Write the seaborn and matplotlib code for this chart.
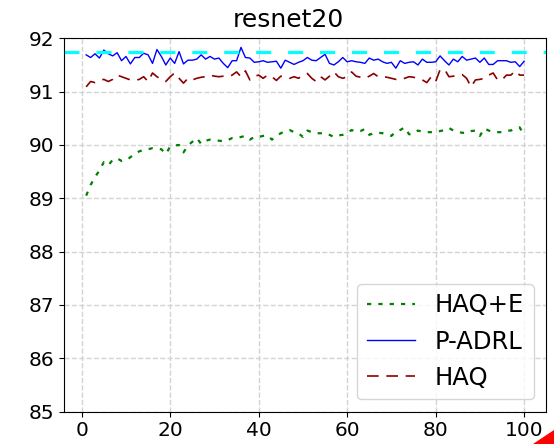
import numpy as np
import matplotlib
matplotlib.use("Agg")
import matplotlib.pyplot as plt
import seaborn as sns
from matplotlib.patches import Polygon

# epochs / accuracies
epochs = list(range(1, 101))

haq_e = [89.05, 89.25, 89.40, 89.52, 89.68, 89.62, 89.72, 89.75, 89.70, 89.71,
         89.77, 89.84, 89.88, 89.91, 89.92, 89.94, 89.93, 89.92, 89.83, 89.97,
         89.99, 90.00, 89.86, 89.99, 90.06, 90.13, 90.02, 90.08, 90.10, 90.09,
         90.08, 90.07, 90.09, 90.13, 90.13, 90.15, 90.17, 90.10, 90.15, 90.15,
         90.17, 90.18, 90.10, 90.17, 90.22, 90.26, 90.28, 90.24, 90.22, 90.15,
         90.27, 90.24, 90.22, 90.22, 90.22, 90.19, 90.15, 90.18, 90.19, 90.22,
         90.28, 90.25, 90.26, 90.30, 90.19, 90.22, 90.23, 90.22, 90.20, 90.17,
         90.25, 90.28, 90.33, 90.20, 90.21, 90.27, 90.25, 90.24, 90.24, 90.24,
         90.26, 90.28, 90.32, 90.27, 90.24, 90.23, 90.22, 90.26, 90.27, 90.17,
         90.31, 90.27, 90.24, 90.24, 90.24, 90.27, 90.27, 90.31, 90.33, 90.18]

p_adrl = [91.69, 91.64, 91.71, 91.63, 91.78, 91.71, 91.67, 91.73, 91.58, 91.66,
          91.52, 91.64, 91.64, 91.72, 91.69, 91.53, 91.79, 91.66, 91.50, 91.63,
          91.53, 91.75, 91.52, 91.59, 91.59, 91.61, 91.69, 91.61, 91.66, 91.61,
          91.63, 91.53, 91.45, 91.58, 91.58, 91.83, 91.64, 91.63, 91.55, 91.56,
          91.58, 91.55, 91.56, 91.57, 91.44, 91.59, 91.55, 91.51, 91.55, 91.58,
          91.64, 91.59, 91.58, 91.64, 91.70, 91.53, 91.50, 91.56, 91.64, 91.56,
          91.58, 91.56, 91.55, 91.53, 91.63, 91.59, 91.61, 91.56, 91.53, 91.55,
          91.44, 91.58, 91.53, 91.55, 91.56, 91.50, 91.61, 91.55, 91.55, 91.56,
          91.67, 91.58, 91.50, 91.61, 91.56, 91.66, 91.59, 91.61, 91.63, 91.55,
          91.63, 91.51, 91.51, 91.58, 91.58, 91.58, 91.55, 91.56, 91.47, 91.57]

haq = [91.09, 91.19, 91.17, 91.21, 91.23, 91.19, 91.23, 91.31, 91.28, 91.25,
       91.22, 91.21, 91.23, 91.28, 91.19, 91.35, 91.28, 91.23, 91.19, 91.28,
       91.35, 91.25, 91.16, 91.25, 91.22, 91.25, 91.27, 91.28, 91.31, 91.29,
       91.28, 91.29, 91.28, 91.31, 91.37, 91.28, 91.39, 91.22, 91.29, 91.31,
       91.25, 91.31, 91.28, 91.21, 91.29, 91.28, 91.25, 91.28, 91.25, 91.31,
       91.34, 91.25, 91.19, 91.28, 91.22, 91.29, 91.37, 91.28, 91.25, 91.28,
       91.37, 91.29, 91.27, 91.25, 91.29, 91.34, 91.28, 91.28, 91.27, 91.25,
       91.23, 91.22, 91.25, 91.28, 91.27, 91.25, 91.22, 91.17, 91.28, 91.19,
       91.41, 91.42, 91.28, 91.29, 91.31, 91.32, 91.25, 91.09, 91.22, 91.23,
       91.25, 91.31, 91.35, 91.22, 91.22, 91.31, 91.31, 91.39, 91.31, 91.31]

baseline = 91.74

fig = plt.figure(figsize=(5.54, 4.44), dpi=100)
ax = fig.add_axes([0.116, 0.073, 0.8696, 0.8407])

sns.lineplot(x=epochs, y=haq_e, color='green', linewidth=1.6, label='HAQ+E', ax=ax)
ax.lines[-1].set_dashes([1.9, 3.2])
sns.lineplot(x=epochs, y=p_adrl, color='blue', linewidth=1.0, label='P-ADRL', ax=ax)
sns.lineplot(x=epochs, y=haq, color='darkred', linewidth=1.2, label='HAQ', ax=ax)
ax.lines[-1].set_dashes([7, 4.6])

cyan = ax.axhline(baseline, color='cyan', linewidth=2.3)
cyan.set_dashes([4.7, 5.3])

ax.set_ylim(85, 92)
ax.set_xticks([0, 20, 40, 60, 80, 100])
ax.grid(True, linestyle='--', color='#d3d3d3', linewidth=1.0)
ax.set_axisbelow(True)
ax.tick_params(labelsize=14.5)
ax.set_title('resnet20', fontsize=18, x=0.465, pad=8)
ax.legend(loc='lower right', fontsize=17.5)

# red corner mark in the reference screenshot
fig.patches.append(Polygon([[533, 0], [554, 0], [554, 14]], closed=True,
                           transform=None, color='red', figure=fig))

fig.savefig('out.png', dpi=100)
